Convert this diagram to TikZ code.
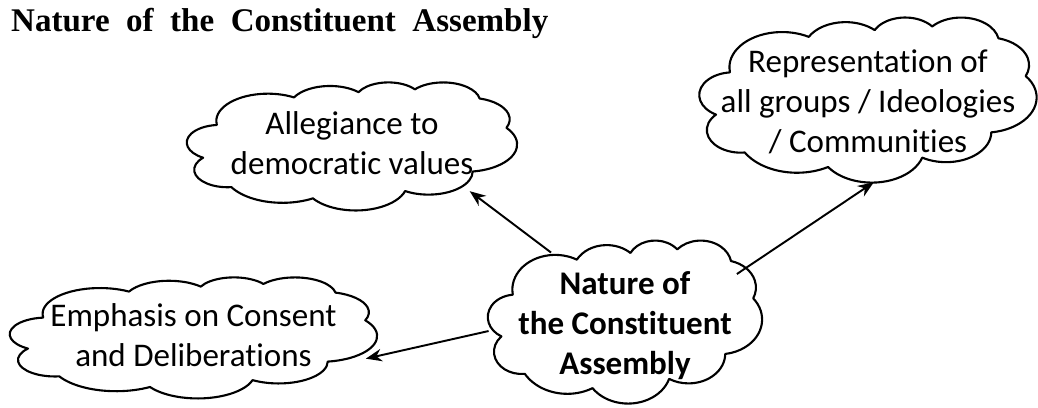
\documentclass[tikz,border=0pt]{standalone}
\usepackage{fontspec}
\setmainfont{Carlito}[Ligatures=NoCommon]
\newfontfamily\headfont[WordSpace=2]{Liberation Serif}
\usetikzlibrary{shapes.geometric,arrows.meta}

% cloud outline drawn in a 100 x 100 box round the node centre
\newcommand{\puffcloud}[3]{%
    \draw[cloudline, shift={(#1.center)}, xscale=#2, yscale=#3, shift={(-50,-50)}]
        (9.028,66.736)
        arc[start angle=187.745, end angle=59.635, x radius=15.632, y radius=21.273]
        arc[start angle=152.02, end angle=45.45, x radius=12.345, y radius=16.822]
        arc[start angle=153.49, end angle=37.33, x radius=10.104, y radius=13.762]
        arc[start angle=139.71, end angle=10.21, x radius=11.243, y radius=15.266]
        arc[start angle=74.77, end angle=-23.21, x radius=12.345, y radius=16.836]
        arc[start angle=37.52, end angle=-81.86, x radius=15.683, y radius=21.343]
        arc[start angle=-0.46, end angle=-121.98, x radius=13.391, y radius=18.211]
        arc[start angle=-16.84, end angle=-146.23, x radius=15.630, y radius=21.331]
        arc[start angle=-58.98, end angle=-150.17, x radius=17.870, y radius=24.405]
        arc[start angle=-83.31, end angle=-223.11, x radius=10.093, y radius=13.699]
        arc[start angle=-120.35, end angle=-264.11, x radius=10.058, y radius=13.762]
        -- cycle;
}

\begin{document}
\begin{tikzpicture}[
    bubble/.style={ellipse, inner sep=0pt},
    cloudline/.style={line width=1.2pt, line join=round},
    txt/.style={align=center, font=\fontsize{18.8}{22.8}\selectfont},
    link/.style={line width=1.1pt, -{Stealth[length=0.32cm,width=0.25cm]}}
]
    \useasboundingbox (0,0) rectangle (20.76,8.14);

    \node[anchor=base west, font=\headfont\bfseries\fontsize{18.8}{22}\selectfont] (title) at (0.1,7.5) {Nature of the Constituent Assembly};

%Clouds

    \node[bubble, minimum width=6.6cm, minimum height=2.56cm,
          label={[txt, yshift=0.05cm]center:{Allegiance to\\democratic values}}] (alleg) at (7.04,5.22) {};
    \puffcloud{alleg}{0.066}{0.0256}

    \node[bubble, minimum width=6.74cm, minimum height=3.3cm,
          label={[txt, yshift=-0.04cm]center:{Representation of\\all groups / Ideologies\\/ Communities}}] (repr) at (17.36,6.15) {};
    \puffcloud{repr}{0.0674}{0.033}

    \node[bubble, minimum width=7.34cm, minimum height=2.42cm,
          label={[txt, yshift=0.04cm]center:{Emphasis on Consent\\and Deliberations}}] (emph) at (3.87,1.39) {};
    \puffcloud{emph}{0.0734}{0.0242}

    \node[bubble, minimum width=5.48cm, minimum height=3.26cm,
          label={[txt, yshift=-0.08cm, font=\bfseries\fontsize{18.8}{22.8}\selectfont]center:{Nature of\\the Constituent\\Assembly}}] (nat) at (12.5,1.71) {};
    \puffcloud{nat}{0.0548}{0.0326}

%Arrows

    \draw[link] (nat.137) -- (alleg.-21);
    \draw[link] (nat.23) -- (repr.-86);
    \draw[link] (nat.184) -- (emph.-7);

\end{tikzpicture}
\end{document}
